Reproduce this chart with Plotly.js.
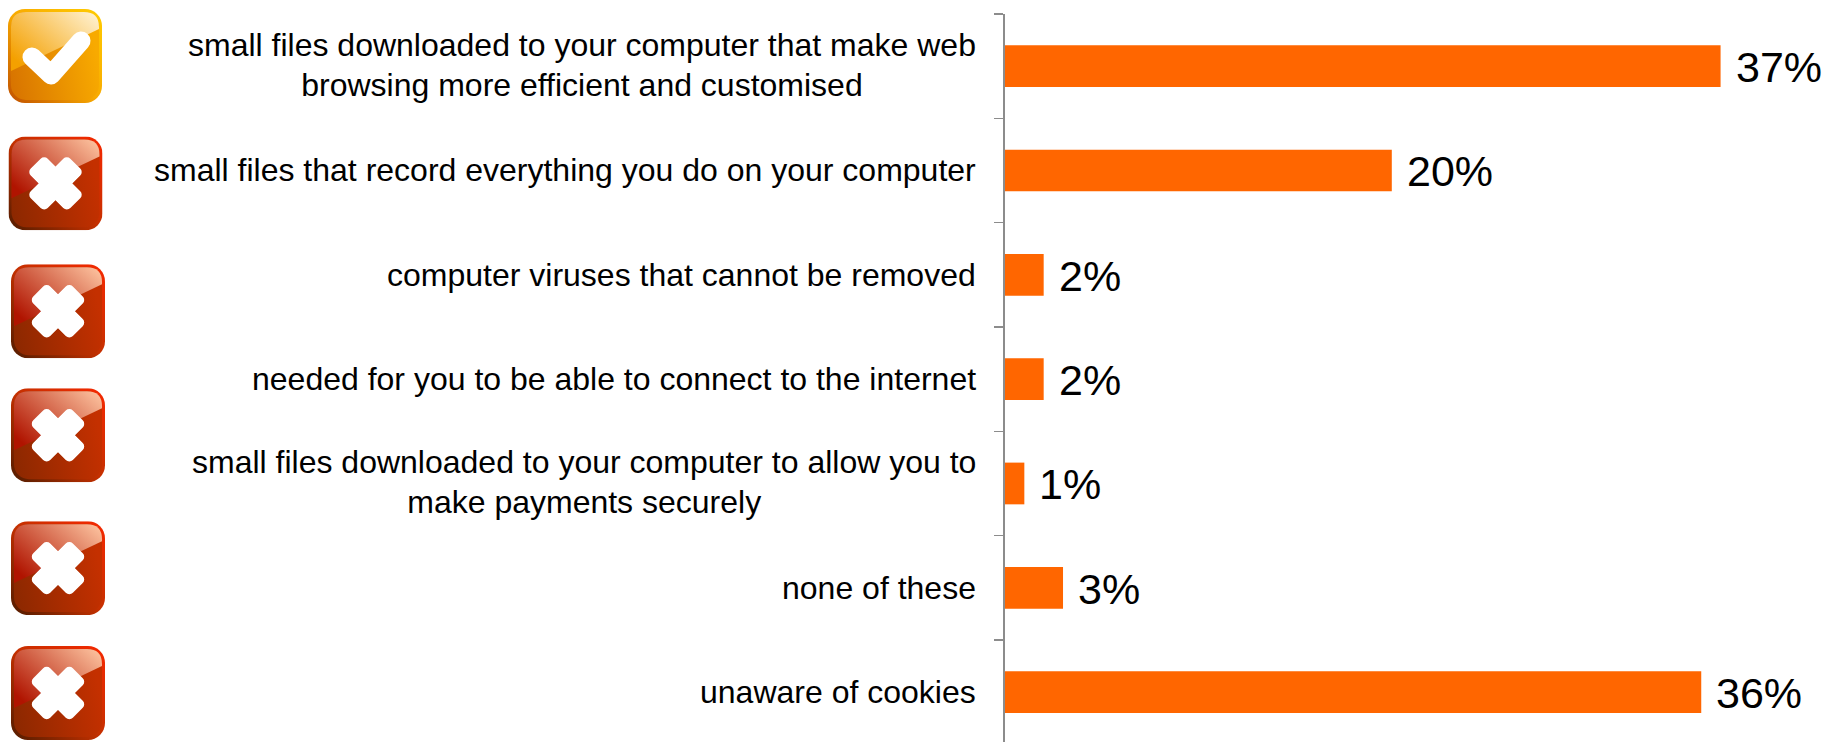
<!DOCTYPE html>
<html>
<head>
<meta charset="utf-8">
<script src="https://cdn.plot.ly/plotly-3.0.1.min.js"></script>
<style>html,body{margin:0;padding:0;background:#fff;overflow:hidden}</style>
</head>
<body>
<div id="chart" style="width:1834px;height:742px"></div>
<script>
// Survey answers, top row first
const categories = [
  'small files downloaded to your computer that make web<br>browsing more efficient and customised',
  'small files that record everything you do on your computer',
  'computer viruses that cannot be removed',
  'needed for you to be able to connect to the internet',
  'small files downloaded to your computer to allow you to<br>make payments securely',
  'none of these',
  'unaware of cookies'
];
const percentages = [37, 20, 2, 2, 1, 3, 36];

// Answer badges down the left edge: kind, centre x, centre y (pixels)
const badgeKinds = ['tick', 'cross', 'cross', 'cross', 'cross', 'cross'];
const badgeCentresX = [55, 55.5, 58, 58, 58, 58];
const badgeCentresY = [55.5, 183, 311, 435, 568, 693];

const W = 1834, H = 742;
const LEFT = 1005, TOP = 13.5, BADGE = 94;

function badgeSvg(kind) {
  const c = kind === 'tick'
    ? {low:'#d87400', high:'#f8aa00', edge1:'#ffcc00', edge2:'#c05000', gloss:'#fff4d8', glossLow:'#f4a000'}
    : {low:'#8c2800', high:'#c43000', edge1:'#f62800', edge2:'#501c00', gloss:'#ffc8a4', glossLow:'#b01400'};
  const mark = kind === 'tick'
    ? '<polyline points="24,48 43,66 73,32" fill="none" stroke="#fff" stroke-width="19" stroke-linejoin="round" stroke-linecap="round"/>'
    : '<g transform="rotate(45 47 47)" fill="#fff"><rect x="19" y="35" width="56" height="24" rx="5"/><rect x="35" y="19" width="24" height="56" rx="5"/></g>';
  const svg =
    '<svg xmlns="http://www.w3.org/2000/svg" width="94" height="94" viewBox="0 0 94 94">' +
    '<defs>' +
    '<linearGradient id="edge" x1="1" y1="0" x2="0" y2="1"><stop offset="0" stop-color="' + c.edge1 + '"/><stop offset="0.5" stop-color="' + c.high + '"/><stop offset="1" stop-color="' + c.edge2 + '"/></linearGradient>' +
    '<linearGradient id="body" x1="0" y1="0.8" x2="1" y2="0.6"><stop offset="0" stop-color="' + c.low + '"/><stop offset="1" stop-color="' + c.high + '"/></linearGradient>' +
    '<linearGradient id="gloss" x1="0" y1="0.75" x2="1" y2="0"><stop offset="0" stop-color="' + c.glossLow + '"/><stop offset="1" stop-color="' + c.gloss + '"/></linearGradient>' +
    '</defs>' +
    '<rect x="0" y="0" width="94" height="94" rx="17" fill="url(#edge)"/>' +
    '<rect x="3" y="3" width="88" height="88" rx="15" fill="url(#body)"/>' +
    '<path d="M3 62 L91 20 L91 18 Q91 3 76 3 L18 3 Q3 3 3 18 Z" fill="url(#gloss)"/>' +
    mark + '</svg>';
  return 'data:image/svg+xml;base64,' + btoa(svg);
}

const plotW = W - LEFT, plotH = H - TOP;

const badgeImages = badgeKinds.map((kind, i) => ({
  source: badgeSvg(kind),
  xref: 'paper', yref: 'paper',
  x: (badgeCentresX[i] - LEFT) / plotW,
  y: (H - badgeCentresY[i]) / plotH,
  sizex: BADGE / plotW, sizey: BADGE / plotH,
  xanchor: 'center', yanchor: 'middle', sizing: 'stretch', layer: 'above'
}));

const answerLabels = categories.map((text, i) => ({
  text, xref: 'paper', yref: 'y', x: 0, y: i,
  xanchor: 'right', yanchor: 'middle', xshift: -27, align: 'center',
  showarrow: false, font: {family: 'Liberation Sans, Arial, sans-serif', size: 32, color: '#000'}
}));

const valueLabels = percentages.map((v, i) => ({
  text: v + '%', xref: 'x', yref: 'y', x: v, y: i,
  xanchor: 'left', yanchor: 'middle', xshift: 13, yshift: -1, align: 'left',
  showarrow: false, font: {family: 'Liberation Sans, Arial, sans-serif', size: 43, color: '#000'}
}));

Plotly.newPlot('chart', [{
  type: 'bar', orientation: 'h',
  x: percentages,
  y: categories.map((_, i) => i),
  width: 0.4,
  marker: {color: '#FF6600', line: {width: 0}},
  hoverinfo: 'x'
}], {
  width: W, height: H,
  margin: {l: LEFT, r: 0, t: TOP, b: 0, pad: 0},
  paper_bgcolor: '#fff', plot_bgcolor: '#fff',
  showlegend: false,
  bargap: 0.6,
  xaxis: {range: [0, plotW / 19.34], visible: false, fixedrange: true},
  yaxis: {
    range: [plotH / 104.4 - 0.5, -0.5],
    tickmode: 'array',
    tickvals: [-0.5, 0.5, 1.5, 2.5, 3.5, 4.5, 5.5],
    ticktext: ['', '', '', '', '', '', ''],
    ticks: 'outside', ticklen: 9, tickwidth: 1.5, tickcolor: '#8c8c8c',
    showline: true, linecolor: '#8c8c8c', linewidth: 2,
    showgrid: false, zeroline: false, fixedrange: true
  },
  annotations: answerLabels.concat(valueLabels),
  images: badgeImages
}, {displayModeBar: false, staticPlot: true}).then(() => {
  // Tighten the leading of the two-line answers (first lines keep their zero offset)
  document.querySelectorAll('#chart .annotation-text tspan.line').forEach(line => {
    if (parseFloat(line.getAttribute('dy')) > 0) line.setAttribute('dy', '1.245em');
  });
});
</script>
</body>
</html>
